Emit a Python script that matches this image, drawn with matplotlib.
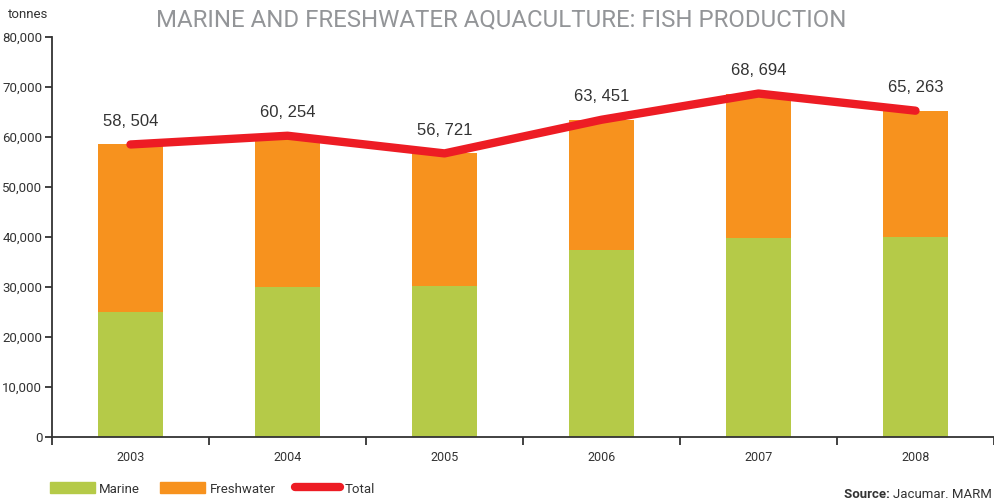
import matplotlib
matplotlib.use("Agg")
import matplotlib.pyplot as plt
from matplotlib.patches import Patch
from matplotlib.lines import Line2D
from matplotlib.ticker import FuncFormatter

years = ["2003", "2004", "2005", "2006", "2007", "2008"]
marine = [25000, 30000, 30250, 37450, 39900, 40100]
total = [58504, 60254, 56721, 63451, 68694, 65263]
freshwater = [t - m for t, m in zip(total, marine)]
total_labels = ["58, 504", "60, 254", "56, 721", "63, 451", "68, 694", "65, 263"]

GREEN = "#B5CA48"
ORANGE = "#F7921E"
RED = "#ED1C24"
DARK = "#333333"
GRAY = "#939598"
FONT = "Roboto"

fig = plt.figure(figsize=(9.94, 5.0), dpi=100)
ax = fig.add_axes([52/994, 1-437/500, 942/994, 400/500])

x = list(range(len(years)))
ax.bar(x, marine, width=0.41, color=GREEN, zorder=2)
ax.bar(x, freshwater, width=0.41, bottom=marine, color=ORANGE, zorder=2)
ax.plot(x, total, color=RED, lw=6, solid_capstyle="round", solid_joinstyle="round", zorder=3)
for xi, t, lab in zip(x, total, total_labels):
    ax.annotate(lab, (xi, t), xytext=(0, 23), textcoords="offset pixels",
                ha="center", va="center", fontsize=12, family="Liberation Sans", color=DARK)

ax.set_xlim(-0.5, len(years) - 0.5)
ax.set_ylim(0, 80000)
ax.set_yticks(range(0, 80001, 10000))
ax.yaxis.set_major_formatter(FuncFormatter(lambda v, p: f"{int(v):,}"))
ax.set_xticks(x)
ax.set_xticklabels(years)
ax.set_xticks([i - 0.5 for i in range(len(years) + 1)], minor=True)
ax.tick_params(axis="x", which="major", length=0, pad=10, labelsize=9, labelcolor=DARK)
ax.tick_params(axis="x", which="minor", length=6, width=1.3, direction="out", color=DARK)
ax.tick_params(axis="y", length=5, width=1.3, direction="out", color=DARK, labelsize=9.5, labelcolor=DARK, pad=2)
for lab in ax.get_xticklabels() + ax.get_yticklabels():
    lab.set_family(FONT)
for s in ["top", "right"]:
    ax.spines[s].set_visible(False)
for s in ["left", "bottom"]:
    ax.spines[s].set_linewidth(1.3)
    ax.spines[s].set_color(DARK)

fig.text(8/994, 1-15/500, "tonnes", fontsize=9.5, family=FONT, color=DARK, va="center", ha="left")
fig.text(501/994, 1-20/500, "MARINE AND FRESHWATER AQUACULTURE: FISH PRODUCTION", fontsize=17.3,
         family=FONT, color=GRAY, ha="center", va="center")

handles = [Patch(color=GREEN), Patch(color=ORANGE), Line2D([0], [0], color=RED, lw=6, solid_capstyle="round")]
leg = fig.legend(handles, ["Marine", "Freshwater", "Total"], loc="center left", bbox_to_anchor=(38/994, 1-489/500),
                 ncol=3, frameon=False, handlelength=3.4, handleheight=0.9, columnspacing=1.5, handletextpad=0.35,
                 prop={"family": FONT, "size": 9.5})
for t in leg.get_texts():
    t.set_color(DARK)

fig.text(992/994, 1-495/500, "Jacumar. MARM", fontsize=9.5, family=FONT, color=DARK, ha="right", va="center")
src = fig.text(0, 0, "Source: ", fontsize=9.5, family=FONT, weight="bold", color=DARK)
fig.canvas.draw()
r = fig.canvas.get_renderer()
jw = fig.texts[-2].get_window_extent(r).width
sw = src.get_window_extent(r).width
src.set_position(((992 - jw - sw) / 994, 1-495/500))
src.set_va("center")

fig.savefig("out.png", dpi=100)
